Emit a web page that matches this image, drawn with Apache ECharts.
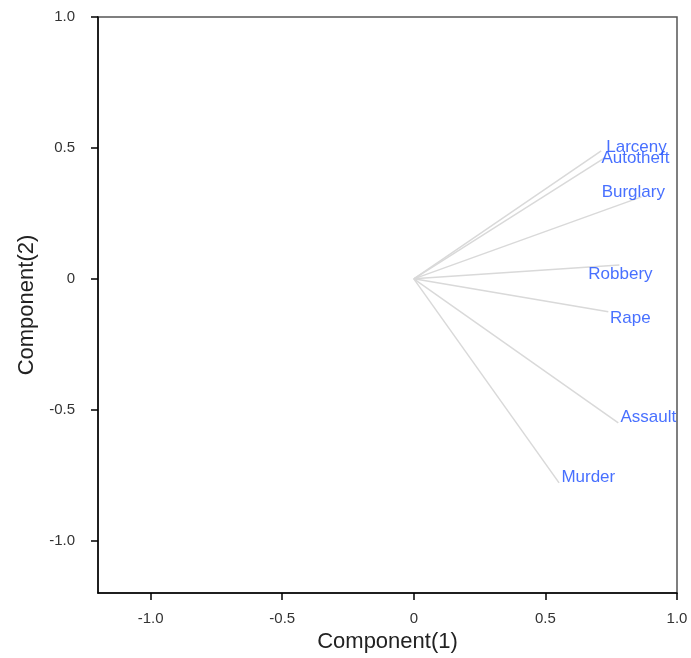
<!DOCTYPE html>
<html>
<head>
<meta charset="utf-8">
<script src="https://cdn.jsdelivr.net/npm/echarts@6/dist/echarts.min.js"></script>
<style>
html,body{margin:0;padding:0;background:#fff;}
#chart{width:691px;height:658px;}
</style>
</head>
<body>
<div id="chart"></div>
<script>
// Variables and their loading vectors (Component 1, Component 2)
var variables = ['Larceny', 'Autotheft', 'Burglary', 'Robbery', 'Rape', 'Assault', 'Murder'];
var comp1 = [0.712, 0.731, 0.865, 0.781, 0.739, 0.777, 0.552];
var comp2 = [0.489, 0.466, 0.313, 0.053, -0.126, -0.550, -0.779];
// Label anchor positions (data units)
var labelX = [0.846, 0.842, 0.834, 0.785, 0.823, 0.891, 0.663];
var labelY = [0.504, 0.462, 0.332, 0.019, -0.149, -0.527, -0.756];
// Tick values
var tickValues = [-1.0, -0.5, 0, 0.5, 1.0];

function fmt(v) { return v === 0 ? '0' : v.toFixed(1); }

var lineData = variables.map(function (n, i) {
  return { name: n, coords: [[0, 0], [comp1[i], comp2[i]]] };
});
var labelData = variables.map(function (n, i) {
  return { name: n, value: [labelX[i], labelY[i]] };
});

var chart = echarts.init(document.getElementById('chart'));
var axisCommon = {
  type: 'value',
  min: -1.2,
  max: 1.0,
  splitLine: { show: false },
  axisLine: { show: true, onZero: false, lineStyle: { color: '#000', width: 1.5 } },
  axisTick: { show: true, inside: false, length: 7, customValues: tickValues, lineStyle: { color: '#000', width: 1.5 } },
  axisLabel: { customValues: tickValues, formatter: fmt, color: '#333', fontSize: 15, fontFamily: 'Liberation Sans' },
  nameLocation: 'middle',
  nameTextStyle: { color: '#222', fontSize: 22, fontFamily: 'Liberation Sans' }
};
var xAxis = Object.assign({}, axisCommon, { name: 'Component(1)', nameGap: 36 });
xAxis.axisLabel = Object.assign({}, axisCommon.axisLabel, { margin: 18 });
var yAxis = Object.assign({}, axisCommon, { name: 'Component(2)', nameGap: 60 });
yAxis.axisLabel = Object.assign({}, axisCommon.axisLabel, { margin: 23 });

chart.setOption({
  animation: false,
  backgroundColor: '#fff',
  grid: { left: 98, right: 14, top: 17, bottom: 63, show: true, borderColor: '#555', borderWidth: 1.5, backgroundColor: 'transparent' },
  xAxis: xAxis,
  yAxis: yAxis,
  series: [
    {
      type: 'lines',
      coordinateSystem: 'cartesian2d',
      data: lineData,
      lineStyle: { color: '#d9d9d9', width: 1.5, opacity: 1 },
      silent: true,
      z: 2
    },
    {
      type: 'scatter',
      data: labelData,
      symbolSize: 0,
      label: {
        show: true,
        position: 'inside',
        formatter: function (p) { return p.name; },
        color: '#1a4cff',
        fontSize: 17,
        fontFamily: 'Liberation Sans'
      },
      silent: true,
      z: 3
    }
  ]
});
</script>
</body>
</html>
